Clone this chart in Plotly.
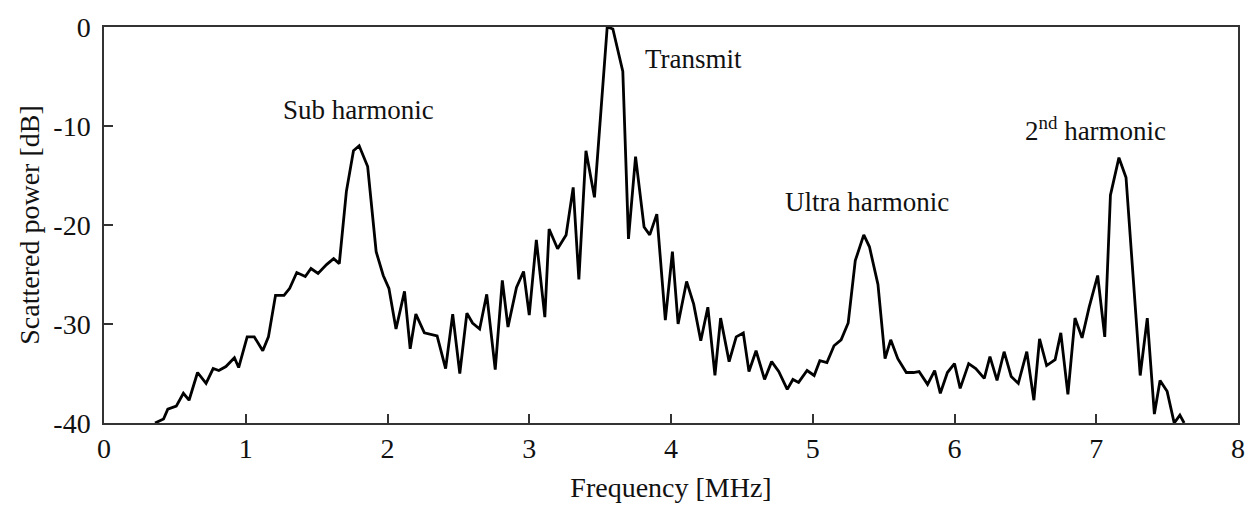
import plotly.graph_objects as go

freq_mhz = [0.36, 0.42, 0.45, 0.51, 0.56, 0.60, 0.66, 0.72, 0.77, 0.81, 0.86, 0.92, 0.95,
            1.01, 1.06, 1.12, 1.16, 1.21, 1.27, 1.31, 1.36, 1.42, 1.46, 1.51, 1.57, 1.62, 1.66,
            1.71, 1.76, 1.80, 1.86, 1.92, 1.97, 2.01, 2.06, 2.12, 2.16, 2.20, 2.26, 2.35, 2.41,
            2.46, 2.51, 2.56, 2.60, 2.65, 2.70, 2.76, 2.81, 2.85, 2.91, 2.96, 3.00, 3.05, 3.11,
            3.14, 3.20, 3.26, 3.31, 3.35, 3.40, 3.46, 3.55, 3.59, 3.66, 3.70, 3.75, 3.81, 3.85,
            3.90, 3.96, 4.01, 4.05, 4.11, 4.16, 4.21, 4.26, 4.31, 4.35, 4.41, 4.46, 4.51, 4.55,
            4.60, 4.66, 4.71, 4.76, 4.82, 4.86, 4.90, 4.96, 5.01, 5.05, 5.10, 5.15, 5.20, 5.25,
            5.30, 5.36, 5.40, 5.46, 5.51, 5.55, 5.60, 5.66, 5.71, 5.75, 5.81, 5.86, 5.90, 5.95,
            6.00, 6.04, 6.10, 6.15, 6.21, 6.25, 6.30, 6.35, 6.40, 6.45, 6.51, 6.56, 6.60, 6.65,
            6.71, 6.75, 6.80, 6.85, 6.90, 6.95, 7.01, 7.06, 7.10, 7.16, 7.21, 7.31, 7.36, 7.41,
            7.45, 7.50, 7.55, 7.59, 7.62]

power_db = [-40.0, -39.6, -38.6, -38.3, -37.0, -37.7, -34.9, -36.0, -34.5, -34.7, -34.3, -33.4, -34.4,
            -31.3, -31.3, -32.7, -31.3, -27.1, -27.1, -26.4, -24.8, -25.2, -24.4, -24.9, -24.0, -23.4, -23.9,
            -16.6, -12.5, -12.0, -14.1, -22.7, -25.1, -26.4, -30.5, -26.7, -32.5, -29.0, -30.9, -31.2, -34.5,
            -29.0, -35.0, -28.9, -29.9, -30.5, -27.0, -34.6, -25.6, -30.3, -26.3, -24.7, -29.1, -21.5, -29.3,
            -20.4, -22.4, -21.0, -16.2, -25.5, -12.5, -17.2, 0.0, -0.2, -4.5, -21.4, -13.1, -20.2, -21.0,
            -18.9, -29.6, -22.7, -30.0, -25.7, -28.0, -31.7, -28.3, -35.2, -29.4, -33.8, -31.3, -30.9, -34.8,
            -32.7, -35.6, -33.8, -34.8, -36.6, -35.6, -35.9, -34.7, -35.2, -33.7, -33.9, -32.2, -31.6, -29.9,
            -23.6, -21.0, -22.2, -26.0, -33.5, -31.6, -33.5, -34.9, -34.9, -34.8, -36.1, -34.7, -37.0, -34.9,
            -34.0, -36.5, -34.0, -34.5, -35.5, -33.3, -35.7, -32.8, -35.3, -36.0, -32.8, -37.7, -31.5, -34.2,
            -33.6, -30.9, -37.1, -29.4, -31.4, -28.3, -25.1, -31.3, -17.0, -13.2, -15.2, -35.2, -29.4, -39.1,
            -35.7, -36.8, -40.0, -39.2, -40.0]

label_texts = ["Sub harmonic", "Transmit", "Ultra harmonic", "2<sup>nd</sup> harmonic"]
label_x = [1.797, 4.158, 5.382, 6.998]
label_y = [-8.4, -3.2, -17.7, -10.3]

x_tick_vals = [0, 1, 2, 3, 4, 5, 6, 7, 8]
x_tick_text = ["0", "1", "2", "3", "4", "5", "6", "7", "8"]
y_tick_vals = [-40, -30, -20, -10, 0]
y_tick_text = ["-40", "-30", "-20", "-10", "0"]

FONT = "Liberation Serif, Times New Roman, serif"

fig = go.Figure()
fig.add_trace(go.Scatter(x=freq_mhz, y=power_db, mode="lines",
                         line=dict(color="black", width=2.8), showlegend=False,
                         hoverinfo="skip"))

for t, x, y in zip(label_texts, label_x, label_y):
    fig.add_annotation(x=x, y=y, text=t, showarrow=False, xanchor="center", yanchor="middle",
                       font=dict(family=FONT, size=27, color="#111"))

axis_common = dict(showgrid=False, zeroline=False, showline=True, linecolor="#333",
                   linewidth=1.5, mirror=True, ticks="inside", ticklen=9, tickwidth=1.5,
                   tickcolor="#333", tickfont=dict(family=FONT, size=28, color="#111"))

fig.update_xaxes(range=[0, 8], tickvals=x_tick_vals, ticktext=x_tick_text, ticklabelstandoff=0,
                 title=dict(text="Frequency [MHz]", font=dict(family=FONT, size=28, color="#111"),
                            standoff=14), **axis_common)
fig.update_yaxes(range=[-40, 0], tickvals=y_tick_vals, ticktext=y_tick_text, ticklabelstandoff=6,
                 title=dict(text="Scattered power [dB]", font=dict(family=FONT, size=28, color="#111"),
                            standoff=6), **axis_common)

fig.update_layout(width=1258, height=510, margin=dict(l=104, r=20, t=21, b=86),
                  plot_bgcolor="white", paper_bgcolor="white")

fig.write_html("out.html")
